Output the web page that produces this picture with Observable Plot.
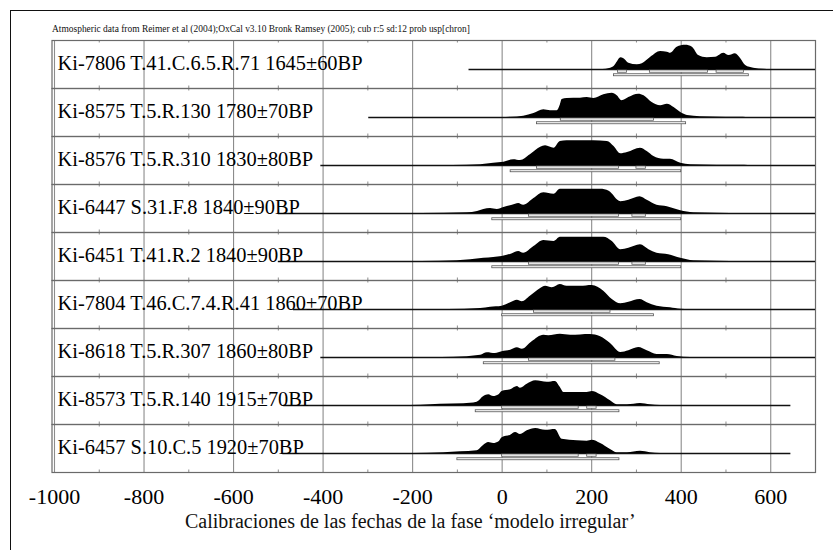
<!DOCTYPE html>
<html><head><meta charset="utf-8">
<script src="https://cdn.jsdelivr.net/npm/d3@7"></script>
<script src="https://cdn.jsdelivr.net/npm/@observablehq/plot@0.6"></script>
<style>
html,body{margin:0;padding:0;background:#fff;overflow:hidden}
#wrap{position:relative;width:833px;height:550px;overflow:hidden}
#outer{position:absolute;left:10px;top:10px;width:900px;height:700px;border-left:1.5px solid #111;border-top:1.5px solid #111}
.hdr{position:absolute;left:52px;top:25px;font:9.45px/9.45px "Liberation Serif",serif;white-space:nowrap;color:#111}
.ttl{position:absolute;left:185px;top:511px;font:20px/20px "Liberation Serif",serif;white-space:nowrap;color:#111}
</style></head><body><div id="wrap"></div>
<script>
// ---- data ----
const headerText = "Atmospheric data from Reimer et al (2004);OxCal v3.10 Bronk Ramsey (2005); cub r:5 sd:12 prob usp[chron]";
const titleText = "Calibraciones de las fechas de la fase  \u2018modelo irregular\u2019";

const labels = [
  "Ki-7806 T.41.C.6.5.R.71 1645\u00b160BP",
  "Ki-8575 T.5.R.130 1780\u00b170BP",
  "Ki-8576 T.5.R.310 1830\u00b180BP",
  "Ki-6447 S.31.F.8 1840\u00b190BP",
  "Ki-6451 T.41.R.2 1840\u00b190BP",
  "Ki-7804 T.46.C.7.4.R.41 1860\u00b170BP",
  "Ki-8618 T.5.R.307 1860\u00b180BP",
  "Ki-8573 T.5.R.140 1915\u00b170BP",
  "Ki-6457 S.10.C.5 1920\u00b170BP"
];

// calibrated probability (relative), [calendar year, probability]
const ki7806 = [[225,0],[240,0.04],[250,0.12],[258,0.32],[265,0.47],[272,0.43],[283,0.25],[302,0.19],[313,0.23],[332,0.49],[354,0.72],[369,0.69],[376,0.65],[391,0.89],[410,0.97],[425,0.89],[439,0.56],[458,0.47],[477,0.49],[495,0.65],[507,0.56],[521,0.63],[533,0.43],[544,0.16],[562,0.05],[585,0.01],[600,0]];
const ki8575 = [[0,0],[20,0.01],[48,0.05],[71,0.16],[93,0.31],[108,0.27],[123,0.27],[130,0.5],[134,0.72],[145,0.76],[175,0.77],[190,0.8],[205,0.76],[227,0.91],[246,0.97],[257,0.87],[268,0.67],[283,0.8],[305,0.93],[317,0.87],[335,0.6],[354,0.47],[369,0.53],[384,0.4],[399,0.2],[414,0.08],[443,0.03],[500,0.01],[533,0.01],[545,0]];
const ki8576 = [[-110,0],[-48,0.03],[-19,0.09],[4,0.13],[26,0.23],[41,0.2],[63,0.43],[86,0.73],[97,0.79],[116,0.69],[130,0.96],[145,0.99],[160,0.99],[205,0.99],[235,0.96],[250,0.76],[265,0.47],[280,0.52],[309,0.69],[324,0.56],[339,0.36],[361,0.25],[376,0.25],[399,0.09],[421,0.03],[480,0.01],[533,0.01],[550,0]];
const ki6447 = [[-180,0],[-78,0.03],[-55,0.08],[-41,0.16],[-26,0.2],[-11,0.16],[4,0.24],[23,0.33],[37,0.4],[48,0.33],[71,0.6],[93,0.83],[116,0.77],[130,0.97],[220,0.97],[239,0.89],[265,0.47],[283,0.53],[308,0.67],[324,0.53],[346,0.33],[369,0.27],[399,0.11],[428,0.03],[480,0.01],[540,0]];
const ki6451 = [[-180,0],[-100,0.03],[-41,0.13],[-19,0.16],[0,0.2],[23,0.31],[37,0.4],[48,0.33],[71,0.6],[93,0.84],[116,0.8],[130,0.97],[227,0.97],[246,0.8],[265,0.47],[283,0.53],[309,0.67],[328,0.47],[346,0.33],[372,0.27],[399,0.13],[428,0.03],[480,0.01],[540,0]];
const ki7804 = [[-120,0],[-48,0.04],[-26,0.09],[0,0.13],[19,0.27],[34,0.37],[45,0.31],[63,0.53],[86,0.84],[97,0.93],[112,0.87],[130,1.0],[145,0.93],[175,0.93],[201,0.96],[227,0.73],[246,0.4],[265,0.23],[283,0.29],[308,0.4],[324,0.27],[346,0.13],[376,0.07],[399,0.01],[420,0]];
const ki8618 = [[-160,0],[-108,0.01],[-48,0.09],[-33,0.19],[-15,0.16],[0,0.23],[19,0.29],[34,0.39],[45,0.33],[67,0.63],[93,0.89],[104,0.87],[130,0.93],[153,0.89],[197,0.92],[220,0.83],[242,0.56],[265,0.2],[283,0.27],[305,0.4],[324,0.27],[346,0.12],[369,0.12],[391,0.04],[421,0]];
const ki8573 = [[-230,0],[-182,0.01],[-138,0.05],[-86,0.07],[-56,0.13],[-41,0.36],[-30,0.43],[-19,0.36],[-7,0.43],[0,0.56],[19,0.63],[34,0.76],[41,0.69],[56,0.85],[75,0.99],[101,0.93],[119,0.96],[130,0.72],[138,0.52],[168,0.52],[190,0.52],[201,0.56],[220,0.43],[242,0.19],[257,0.03],[280,0.03],[309,0.08],[331,0.03],[354,0]];
const ki6457 = [[-230,0],[-167,0.01],[-93,0.07],[-56,0.11],[-41,0.33],[-30,0.44],[-19,0.4],[-7,0.47],[0,0.63],[19,0.73],[30,0.84],[41,0.76],[56,0.91],[75,1.0],[97,0.93],[119,0.96],[134,0.57],[168,0.51],[190,0.49],[201,0.53],[220,0.4],[242,0.16],[257,0.03],[280,0.03],[309,0.09],[331,0.03],[354,0]];
const curves = [ki7806, ki8575, ki8576, ki6447, ki6451, ki7804, ki8618, ki8573, ki6457];

// plotted calendar range of each calibration
const rangeStart = [-74, -298, -405, -500, -500, -466, -405, -488, -490];
const rangeEnd   = [700, 700, 700, 700, 700, 700, 700, 645, 645];

// highest probability ranges
const hpd68 = [
  [[259,279],[330,460],[479,540]],
  [[131,339]],
  [[78,261],[300,321]],
  [[60,261],[291,321]],
  [[60,261],[291,321]],
  [[71,242]],
  [[60,253]],
  [[0,171],[190,211]],
  [[0,171],[190,211]]
];
const hpd95 = [
  [[250,551]],
  [[78,411]],
  [[19,400]],
  [[-22,400]],
  [[-22,400]],
  [[0,339]],
  [[-41,352]],
  [[-59,262]],
  [[-100,262]]
];

const majorTicks = [-1000, -800, -600, -400, -200, 0, 200, 400, 600];
const minorTicks = [-900, -700, -500, -300, -100, 100, 300, 500];

// ---- tables ----
const density = curves.flatMap((c, i) => c.map(([year, p]) => ({label: labels[i], year, p})));
const rows = labels.map((label, i) => ({label, start: rangeStart[i], end: rangeEnd[i]}));
const r68 = hpd68.flatMap((rs, i) => rs.map(([a, b]) => ({label: labels[i], a, b})));
const r95 = hpd95.flatMap((rs, i) => rs.map(([a, b]) => ({label: labels[i], a, b})));

const serif = "'Liberation Serif', 'Times New Roman', serif";
const grid = "#8c8c8c";

const plot = Plot.plot({
  width: 833, height: 550,
  marginLeft: 54, marginRight: 18, marginTop: 40, marginBottom: 78,
  style: {background: "transparent", fontFamily: serif, fontSize: "20px", color: "#111"},
  x: {domain: [-1000, 700], label: null},
  y: {domain: [-0.76, 1.16], axis: null},
  fy: {domain: labels, padding: 0, axis: null, label: null},
  marks: [
    Plot.ruleX(majorTicks, {stroke: grid, strokeWidth: 1.1}),
    Plot.ruleX(minorTicks, {y1: 1.16, y2: 1.06, stroke: grid, strokeWidth: 1}),
    Plot.ruleX(minorTicks, {y1: -0.76, y2: -0.66, stroke: grid, strokeWidth: 1}),
    Plot.frame({stroke: "#6a6a6a", strokeWidth: 1.2, insetLeft: -2.5}),
    Plot.ruleY(rows, {fy: "label", y: 0, x1: "start", x2: "end", stroke: "#111", strokeWidth: 1.3}),
    Plot.areaY(density, {fy: "label", x: "year", y: "p", fill: "#000", curve: "monotone-x"}),
    Plot.rect(r68, {fy: "label", x1: "a", x2: "b", y1: -0.04, y2: -0.13, fill: "#fff", stroke: "#555", strokeWidth: 0.8}),
    Plot.rect(r95, {fy: "label", x1: "a", x2: "b", y1: -0.19, y2: -0.27, fill: "#fff", stroke: "#555", strokeWidth: 0.8}),
    Plot.text(rows, {fy: "label", text: "label", frameAnchor: "left", y: 0, dx: 3, textAnchor: "start", lineAnchor: "bottom", fontSize: 20.4, fontFamily: serif, fill: "#000"}),
    Plot.axisX({ticks: majorTicks, tickSize: 0, tickPadding: 16, tickFormat: d => String(d), fontSize: 22, fontFamily: serif, fill: "#000", label: null})
  ]
});

const wrap = document.getElementById("wrap");
wrap.appendChild(plot);
const outer = document.createElement("div"); outer.id = "outer"; wrap.appendChild(outer);
const hdr = document.createElement("div"); hdr.className = "hdr"; hdr.textContent = headerText; wrap.appendChild(hdr);
const ttl = document.createElement("div"); ttl.className = "ttl"; ttl.textContent = titleText; wrap.appendChild(ttl);
</script></body></html>
